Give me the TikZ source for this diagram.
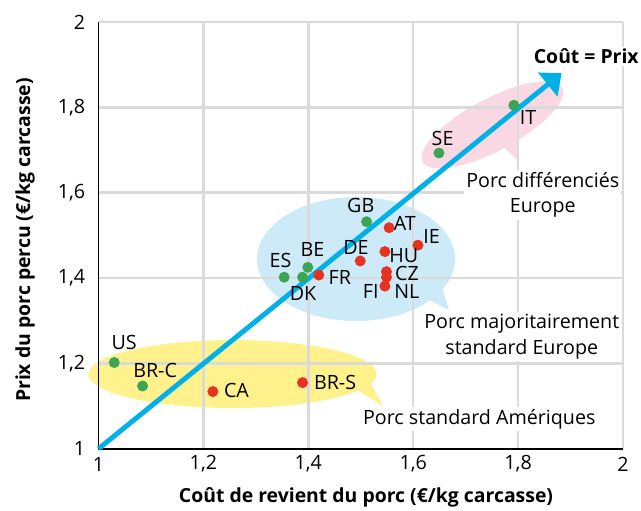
\documentclass[tikz,border=0pt]{standalone}
\usepackage{fontspec}
\setmainfont{Open Sans}
\usetikzlibrary{arrows.meta}
\definecolor{dotgreen}{RGB}{60,165,85}
\definecolor{dotred}{RGB}{230,50,35}
\definecolor{linecyan}{RGB}{0,176,230}
\definecolor{bubblue}{RGB}{204,234,248}
\definecolor{bubyellow}{RGB}{255,241,140}
\definecolor{bubpink}{RGB}{249,216,228}
\definecolor{gridgray}{RGB}{218,218,218}
\tikzset{
  gdot/.style={circle,fill=dotgreen,inner sep=0,minimum size=.275cm},
  rdot/.style={circle,fill=dotred,inner sep=0,minimum size=.275cm},
  lbl/.style={font=\fontsize{14}{16}\selectfont,inner sep=0},
  note/.style={font=\fontsize{14}{18.2}\selectfont,align=center,fill=white,inner sep=1.5pt},
  ttl/.style={font=\bfseries\fontsize{13.8}{16}\selectfont,inner sep=1.5pt},
  gridline/.style={gridgray,line width=1.8pt},
}
\begin{document}
\begin{tikzpicture}[line join=round,x=13.1125cm,y=10.6675cm]
\useasboundingbox (0.8122,0.8563) rectangle (2.0343,2.0516);
% bulles
\fill[bubyellow] (1.2555,1.175) ellipse [x radius=3.6cm,y radius=.85cm];
\fill[bubyellow] (1.489,1.142)--(1.543,1.0984)--(1.5138,1.1657)--cycle;
\fill[bubblue] (1.491,1.4446) ellipse [x radius=2.475cm,y radius=1.55cm];
\fill[bubblue] (1.613,1.3597)--(1.668,1.325)--(1.651,1.395)--cycle;
\fill[bubpink,shift={(1.751,1.759)},rotate=28] (0,0) ellipse [x radius=1.975cm,y radius=.65cm];
\fill[bubpink] (1.7655,1.7164)--(1.798,1.6766)--(1.7998,1.728)--cycle;
% grille
\foreach \v in {1.2,1.4,1.6,1.8,2}{
  \draw[gridline] (\v,1)--(\v,2);
  \draw[gridline] (1,\v)--(2,\v);
}
\node[note] (diff) at (1.847,1.595) {Porc différenciés\\Europe};
\node[note] (maj) at (1.807,1.263) {Porc majoritairement\\standard Europe};
\node[note] (amer) at (1.726,1.069) {Porc standard Amériques};
\node[ttl,fill=white] (cp) at (1.930,1.919) {Coût = Prix};
\draw[line width=1.4pt] (1,2)--(1,1)--(2,1);
\foreach \v/\t in {1/1,1.2/{1,2},1.4/{1,4},1.6/{1,6},1.8/{1,8},2/2}{
  \node[lbl] (x\t) at (\v,.964) {\t};
  \node[lbl,anchor=east] (y\t) at (.975,\v) {\t};
}
\node[ttl] (xtitle) at (1.510,.887) {Coût de revient du porc (€/kg carcasse)};
\node[ttl,rotate=90] (ytitle) at (.860,1.489) {Prix du porc percu (€/kg carcasse)};
% bissectrice
\coordinate (O) at (1,1);
\coordinate (tip) at (1.883,1.88);
\draw[linecyan,line width=3.5pt,-{Triangle[length=.45cm,width=.75cm]}] (O)--(tip);
% pays
\node[gdot] (IT) at (1.792,1.805) {};
\node[gdot] (SE) at (1.649,1.693) {};
\node[gdot] (GB) at (1.511,1.532) {};
\node[rdot] (AT) at (1.554,1.518) {};
\node[rdot] (IE) at (1.609,1.477) {};
\node[rdot] (HU) at (1.546,1.462) {};
\node[rdot] (DE) at (1.499,1.440) {};
\node[rdot] (CZ) at (1.549,1.415) {};
\node[rdot] (NL) at (1.549,1.402) {};
\node[rdot] (FI) at (1.546,1.381) {};
\node[rdot] (FR) at (1.420,1.407) {};
\node[gdot] (BE) at (1.399,1.425) {};
\node[gdot] (DK) at (1.389,1.402) {};
\node[gdot] (ES) at (1.354,1.402) {};
\node[gdot] (US) at (1.030,1.202) {};
\node[gdot] (BRC) at (1.084,1.147) {};
\node[rdot] (CA) at (1.218,1.134) {};
\node[rdot] (BRS) at (1.389,1.155) {};
\node[lbl] (ITt) at (1.819,1.777) {IT};
\node[lbl] (SEt) at (1.656,1.728) {SE};
\node[lbl] (GBt) at (1.500,1.571) {GB};
\node[lbl] (ATt) at (1.584,1.528) {AT};
\node[lbl] (IEt) at (1.635,1.497) {IE};
\node[lbl] (DEt) at (1.491,1.471) {DE};
\node[lbl] (HUt) at (1.582,1.453) {HU};
\node[lbl] (CZt) at (1.588,1.411) {CZ};
\node[lbl] (NLt) at (1.588,1.369) {NL};
\node[lbl] (FIt) at (1.519,1.368) {FI};
\node[lbl] (FRt) at (1.460,1.402) {FR};
\node[lbl] (BEt) at (1.408,1.466) {BE};
\node[lbl] (DKt) at (1.390,1.364) {DK};
\node[lbl] (ESt) at (1.347,1.442) {ES};
\node[lbl] (USt) at (1.049,1.248) {US};
\node[lbl] (BRCt) at (1.108,1.184) {BR-C};
\node[lbl] (CAt) at (1.263,1.136) {CA};
\node[lbl] (BRSt) at (1.451,1.155) {BR-S};
\end{tikzpicture}
\end{document}
